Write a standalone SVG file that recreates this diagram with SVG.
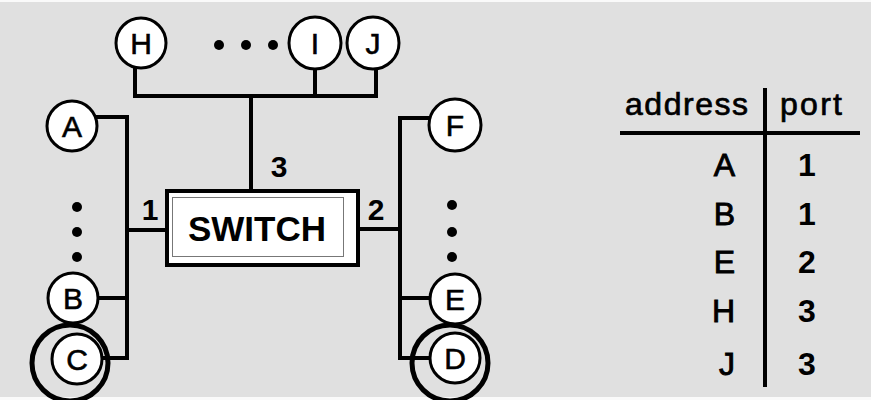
<svg xmlns="http://www.w3.org/2000/svg" width="871" height="400" viewBox="0 0 871 400">
<style>
.bg{fill:#e0e0e0}
.node{fill:#fff;stroke:#000;stroke-width:3}
.lbl{font-family:"Liberation Sans",Arial,sans-serif;font-size:30px;fill:#000;text-anchor:middle;stroke:#000;stroke-width:0.6}
.wire{fill:none;stroke:#000;stroke-width:4;stroke-linecap:square}
.dot{fill:#000}
.port{font-family:"Liberation Sans",Arial,sans-serif;font-size:30px;font-weight:bold;fill:#000;text-anchor:middle}
.ring{fill:none;stroke:#000;stroke-width:5}
.tbl{font-family:"Liberation Sans",Arial,sans-serif;fill:#000}
</style>
<rect x="0" y="0" width="871" height="400" fill="#fafafa"/>
<rect class="bg" x="0" y="2" width="871" height="395"/>

<g id="connectors">
  <path class="wire" d="M135,68 V96 H376 V68"/>
  <path class="wire" d="M315,69 V96"/>
  <path class="wire" d="M251,96 V189"/>
  <path class="wire" d="M98,117 H127 V358 H100"/>
  <path class="wire" d="M98,298 H127"/>
  <path class="wire" d="M127,230 H165"/>
  <path class="wire" d="M430,118 H400 V358 H430"/>
  <path class="wire" d="M400,298 H430"/>
  <path class="wire" d="M360,229 H400"/>
  <text class="port" x="279" y="177">3</text>
  <text class="port" x="150" y="220">1</text>
  <text class="port" x="376" y="220">2</text>
</g>

<g id="switch">
  <rect x="167" y="191" width="191" height="74" fill="#fff" stroke="#000" stroke-width="4"/>
  <rect x="172.5" y="197.5" width="171" height="59" fill="#fff" stroke="#777" stroke-width="1"/>
  <text x="257" y="241" font-family="Liberation Sans,Arial,sans-serif" font-size="35" font-weight="bold" text-anchor="middle">SWITCH</text>
</g>

<g id="node-H"><circle class="node" cx="141" cy="43" r="25"/><text class="lbl" x="141" y="54">H</text></g>
<g id="dots-top"><circle class="dot" cx="219" cy="45" r="5"/><circle class="dot" cx="246" cy="45" r="5"/><circle class="dot" cx="273" cy="45" r="5"/></g>
<g id="node-I"><circle class="node" cx="315" cy="43" r="26"/><text class="lbl" x="315" y="54">I</text></g>
<g id="node-J"><circle class="node" cx="373" cy="43" r="26"/><text class="lbl" x="373" y="54">J</text></g>
<g id="node-A"><circle class="node" cx="72" cy="126" r="25"/><text class="lbl" x="72" y="137">A</text></g>
<g id="dots-left"><circle class="dot" cx="77" cy="207" r="5"/><circle class="dot" cx="77" cy="232" r="5"/><circle class="dot" cx="77" cy="257" r="5"/></g>
<g id="node-B"><circle class="node" cx="73" cy="298" r="25"/><text class="lbl" x="73" y="309">B</text></g>
<g id="node-C"><circle class="node" cx="77" cy="359" r="25"/><text class="lbl" x="77" y="370">C</text><circle class="ring" cx="70" cy="363" r="38"/></g>
<g id="node-F"><circle class="node" cx="455" cy="125" r="26"/><text class="lbl" x="455" y="136">F</text></g>
<g id="dots-right"><circle class="dot" cx="452" cy="205" r="5"/><circle class="dot" cx="452" cy="232" r="5"/><circle class="dot" cx="452" cy="257" r="5"/></g>
<g id="node-E"><circle class="node" cx="455" cy="299" r="25"/><text class="lbl" x="455" y="310">E</text></g>
<g id="node-D"><circle class="node" cx="455" cy="358" r="25"/><text class="lbl" x="455" y="369">D</text><circle class="ring" cx="450" cy="363" r="38"/></g>

<g id="table">
  <line x1="620" y1="133" x2="860" y2="133" stroke="#000" stroke-width="4"/>
  <line x1="765" y1="88" x2="765" y2="387" stroke="#000" stroke-width="4"/>
  <text class="tbl" x="625" y="115" font-size="32" textLength="123" stroke="#000" stroke-width="0.7">address</text>
  <text class="tbl" x="780" y="115" font-size="32" textLength="62" stroke="#000" stroke-width="0.7">port</text>
  <g font-size="32" text-anchor="end" class="tbl" stroke="#000" stroke-width="0.9">
    <text x="735" y="176">A</text>
    <text x="735" y="225">B</text>
    <text x="735" y="273">E</text>
    <text x="735" y="322">H</text>
    <text x="735" y="375">J</text>
  </g>
  <g font-size="32" text-anchor="middle" class="tbl" font-weight="bold">
    <text x="807" y="176">1</text>
    <text x="807" y="225">1</text>
    <text x="807" y="273">2</text>
    <text x="807" y="322">3</text>
    <text x="807" y="375">3</text>
  </g>
</g>
</svg>
